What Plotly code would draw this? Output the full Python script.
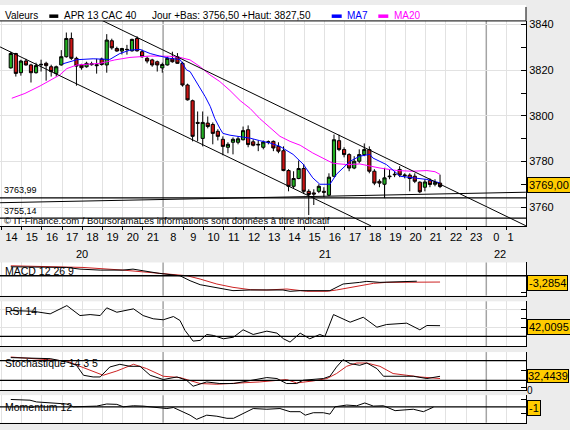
import plotly.graph_objects as go

# ---------------- data ----------------
HOUR_LABELS = ["14", "15", "16", "17", "18", "19", "20", "21", "8", "9", "10", "11", "12", "13",
               "14", "15", "16", "17", "18", "19", "20", "21", "22", "23", "0", "1"]
DAY_LABELS = ["20", "21", "22"]
DAY_LABEL_SLOT = [4.0, 16.0, 24.7]
DAY_BREAK_SLOTS = [8, 24]

OPEN = [3821.0, 3827.3, 3818.9, 3824.0, 3822.3, 3818.9, 3822.6, 3823.0, 3821.5, 3818.6,
        3822.3, 3825.9, 3833.9, 3825.2, 3822.3, 3821.5, 3822.4, 3822.4, 3824.9, 3822.3,
        3832.9, 3829.5, 3828.4, 3829.0, 3828.5, 3833.9, 3828.1, 3825.2, 3824.5, 3823.7,
        3821.0, 3822.3, 3825.0, 3825.9, 3823.0, 3813.5, 3806.6, 3797.1, 3790.1, 3796.8,
        3796.2, 3793.2, 3789.7, 3786.2, 3788.4, 3788.4, 3789.5, 3793.9, 3788.6, 3787.5,
        3786.2, 3788.4, 3788.8, 3786.6, 3784.7, 3776.0, 3769.1, 3772.5, 3776.9, 3766.9,
        3766.2, 3766.9, 3766.9, 3765.2, 3773.5, 3789.1, 3785.2, 3783.0, 3777.1, 3780.1,
        3783.0, 3785.2, 3775.7, 3771.3, 3770.0, 3773.3, 3774.4, 3776.5, 3773.7, 3774.0,
        3773.5, 3770.9, 3768.7, 3771.6, 3770.0, 3770.5]
HIGH = [3828.1, 3827.6, 3824.6, 3825.0, 3822.8, 3823.3, 3824.6, 3823.7, 3822.4, 3822.0,
        3828.8, 3836.5, 3836.5, 3825.9, 3822.8, 3823.7, 3823.7, 3825.0, 3825.5, 3835.8,
        3833.8, 3830.3, 3829.8, 3831.1, 3833.8, 3834.9, 3829.0, 3825.9, 3825.0, 3824.2,
        3823.3, 3825.9, 3828.1, 3827.5, 3823.7, 3814.1, 3807.1, 3801.9, 3801.9, 3799.7,
        3797.1, 3794.1, 3791.0, 3788.4, 3790.5, 3791.0, 3795.3, 3795.8, 3789.7, 3789.2,
        3789.2, 3789.2, 3789.2, 3788.4, 3786.6, 3776.6, 3775.7, 3780.4, 3778.9, 3767.8,
        3767.8, 3770.0, 3768.7, 3774.8, 3791.8, 3791.7, 3786.2, 3783.6, 3782.3, 3785.3,
        3787.9, 3786.6, 3776.6, 3772.2, 3777.2, 3776.6, 3775.7, 3777.9, 3774.8, 3774.8,
        3774.8, 3771.3, 3772.2, 3772.6, 3772.2, 3774.2]
LOW = [3820.7, 3817.2, 3817.6, 3822.0, 3814.6, 3818.5, 3819.4, 3815.4, 3817.2, 3817.2,
       3822.0, 3825.5, 3824.5, 3813.2, 3820.2, 3821.1, 3822.0, 3818.5, 3822.0, 3818.9,
       3829.0, 3828.1, 3826.9, 3826.8, 3828.1, 3828.1, 3825.5, 3823.0, 3821.5, 3819.4,
       3818.9, 3822.0, 3823.3, 3822.8, 3812.8, 3806.7, 3788.8, 3788.8, 3786.6, 3794.5,
       3787.5, 3789.2, 3782.7, 3783.6, 3783.1, 3787.5, 3789.2, 3786.2, 3786.6, 3784.5,
       3785.3, 3787.5, 3784.5, 3783.6, 3775.7, 3766.9, 3768.3, 3772.2, 3765.7, 3756.5,
       3760.9, 3766.1, 3764.4, 3764.8, 3773.1, 3784.5, 3781.8, 3775.7, 3776.6, 3779.2,
       3782.3, 3774.8, 3769.6, 3768.7, 3763.9, 3772.2, 3773.1, 3773.1, 3772.6, 3766.9,
       3770.5, 3766.1, 3766.9, 3768.7, 3769.1, 3768.3]
CLOSE = [3827.3, 3818.6, 3824.0, 3822.3, 3818.9, 3822.0, 3822.4, 3822.0, 3819.4, 3821.5,
         3825.9, 3833.9, 3825.2, 3821.8, 3821.1, 3823.0, 3822.8, 3822.0, 3822.5, 3833.2,
         3829.8, 3828.4, 3829.5, 3829.1, 3833.5, 3828.5, 3825.9, 3824.0, 3822.3, 3822.3,
         3822.5, 3825.2, 3823.7, 3823.0, 3813.5, 3807.0, 3791.0, 3796.7, 3797.1, 3795.3,
         3792.3, 3791.0, 3786.6, 3787.5, 3789.7, 3789.9, 3793.5, 3787.4, 3787.1, 3787.3,
         3788.5, 3788.6, 3785.9, 3784.5, 3776.0, 3769.1, 3772.5, 3776.9, 3766.9, 3765.5,
         3765.7, 3769.1, 3766.5, 3773.1, 3789.5, 3785.2, 3783.0, 3777.1, 3780.1, 3783.0,
         3785.2, 3775.7, 3770.5, 3770.5, 3772.8, 3773.5, 3774.2, 3774.0, 3774.0, 3772.5,
         3771.3, 3766.7, 3771.0, 3769.9, 3770.7, 3769.0]

MA7_K = [10.3, 13.1, 16.3, 19.6, 21.6, 23.6, 25.6, 27.6, 29.5, 31.5, 33.5, 34.8, 35.5, 36.5,
         37.5, 38.5, 39.5, 40.4, 41.4, 42.0, 43.4, 45.4, 47.4, 49.3, 51.3, 53.3, 54.6, 55.9,
         57.9, 59.8, 61.2, 63.2, 64.5, 65.8, 67.2, 69.1, 71.1, 71.7, 74.4, 77.1, 79.6, 82.4, 85.0]
MA7_V = [3822.8, 3824.6, 3825.0, 3824.7, 3827.3, 3828.8, 3829.1, 3827.3, 3826.2, 3825.2,
         3824.7, 3820.1, 3819.4, 3815.9, 3811.9, 3808.4, 3804.1, 3798.8, 3794.5, 3792.3,
         3791.5, 3790.9, 3790.2, 3789.1, 3788.1, 3786.6, 3784.9, 3783.1, 3778.8, 3772.8,
         3770.0, 3770.0, 3774.4, 3777.1, 3780.1, 3782.3, 3783.1, 3781.5, 3778.6, 3773.5,
         3772.8, 3772.1, 3770.6]
MA20_K = [0.2, 2.8, 5.8, 9.7, 11.1, 13.1, 17.7, 20.6, 23.6, 27.6, 31.5, 33.5, 35.5, 37.5,
          39.4, 41.4, 43.4, 45.4, 47.4, 49.3, 51.3, 53.3, 55.3, 57.3, 59.8, 61.8, 63.8, 66.6,
          69.1, 73.1, 76.5, 79.6, 82.4, 84.0, 85.0]
MA20_V = [3807.7, 3809.8, 3813.1, 3817.9, 3820.7, 3822.3, 3823.0, 3824.5, 3825.6, 3826.2,
          3826.1, 3825.6, 3824.5, 3821.5, 3818.0, 3815.0, 3811.1, 3806.7, 3803.2, 3798.8,
          3794.9, 3791.0, 3788.8, 3787.1, 3783.7, 3781.5, 3779.2, 3778.6, 3778.9, 3777.1,
          3776.0, 3775.7, 3776.0, 3775.5, 3774.3]

UPPER_CHANNEL_X = [5.0, 25.96]
UPPER_CHANNEL_Y = [3841.7, 3751.8]
LOWER_CHANNEL_X = [-0.07, 18.3]
LOWER_CHANNEL_Y = [3830.2, 3751.7]
RISING_LINE_X = [-0.07, 25.96]
RISING_LINE_Y = [3761.9, 3766.5]
LEVEL_A = 3763.99
LEVEL_B = 3755.14

MACD_K = [0, 6.4, 11.1, 13.7, 17.7, 22.2, 24.2, 26.2, 29.5, 33.5, 35.5, 37.5, 40.8, 44.0,
          47.4, 50.7, 53.9, 55.3, 57.3, 63.2, 64.5, 65.8, 69.1, 70.5, 73.1, 77.7, 80.4]
MACD_V = [5.4, 5.4, 5.0, 4.0, 3.4, 3.4, 4.0, 3.0, 1.4, 0.0, -3.0, -5.4, -7.4, -9.0,
          -8.6, -8.6, -8.6, -9.4, -9.0, -9.0, -7.0, -5.0, -4.0, -3.4, -4.0, -3.4, -3.3]
SIG_K = [0, 14.3, 22.2, 30.1, 34.9, 37.5, 40.8, 44.0, 47.4, 50.7, 54.7, 58.6, 62.6, 64.5,
         66.5, 69.1, 71.8, 74.4, 78.4, 85.0]
SIG_V = [6.0, 5.0, 3.4, 1.4, 0.0, -2.0, -5.0, -7.0, -8.4, -8.6, -8.0, -9.4, -9.4, -8.6,
         -7.4, -6.0, -4.6, -4.0, -3.8, -3.8]

RSI_K = [0, 4.4, 7.8, 11.1, 13.7, 15.7, 17.7, 19.0, 21.0, 22.9, 24.3, 26.2, 28.2, 30.2,
         32.2, 33.5, 34.5, 36.1, 37.5, 38.8, 40.1, 42.1, 44.1, 46.0, 48.0, 50.7, 52.7, 54.0,
         55.3, 57.3, 59.2, 61.2, 62.2, 63.9, 67.2, 69.8, 72.5, 74.4, 78.4, 81.0, 82.4, 85.0]
RSI_V = [58.9, 58.1, 55.2, 64.4, 53.3, 54.4, 53.3, 61.9, 57.0, 58.9, 60.8, 53.3, 49.7, 48.6,
         52.2, 47.8, 36.7, 24.8, 25.6, 32.2, 31.1, 27.4, 29.2, 37.4, 32.2, 35.9, 33.7, 27.4,
         23.7, 33.7, 27.4, 32.2, 30.0, 54.4, 45.9, 51.4, 40.3, 43.3, 44.8, 37.4, 42.2, 42.0]

STK_K = [0, 7.8, 11.1, 13.0, 14.4, 16.3, 17.7, 19.6, 21.6, 23.6, 25.6, 27.6, 30.2, 32.9,
         34.8, 36.1, 38.8, 41.4, 44.1, 46.7, 50.7, 52.7, 54.6, 56.6, 57.9, 61.9, 63.2, 64.5,
         65.8, 67.2, 69.1, 70.5, 72.5, 73.8, 75.7, 79.7, 82.4, 85.0]
STK_V = [88.9, 85.8, 75.6, 65.7, 35.5, 30.4, 30.4, 60.5, 68.7, 62.6, 62.6, 35.5, 22.6, 30.4,
         20.5, 2.4, 15.4, 10.5, 10.5, 18.4, 28.6, 25.6, 10.5, 10.5, 20.5, 25.6, 32.5, 60.5,
         82.8, 70.8, 65.7, 72.6, 55.7, 32.5, 32.5, 32.5, 25.6, 32.4]
STD_K = [0, 11.1, 13.7, 18.3, 21.0, 24.3, 26.9, 30.2, 33.5, 37.5, 40.8, 44.1, 49.3, 54.6,
         56.6, 59.9, 62.6, 64.5, 66.5, 68.5, 70.5, 73.1, 75.7, 78.4, 81.0, 85.0]
STD_V = [90.7, 78.6, 62.6, 35.5, 48.5, 68.7, 55.7, 32.5, 28.6, 10.5, 8.4, 10.5, 15.4, 22.6,
         12.3, 18.4, 25.6, 40.7, 62.6, 72.6, 72.6, 62.6, 40.7, 35.5, 30.4, 25.6]

MOM_K = [0, 3.8, 5.1, 11.1, 12.4, 14.4, 17.0, 19.0, 21.0, 22.3, 24.3, 26.2, 30.9, 32.2,
         33.5, 35.5, 36.8, 38.8, 40.8, 42.8, 44.1, 46.0, 48.0, 50.7, 53.3, 55.3, 57.3, 58.3,
         59.9, 61.9, 63.2, 64.2, 66.5, 68.5, 70.1, 71.8, 73.8, 76.1, 78.1, 79.7, 81.7, 83.7]
MOM_V = [21, 19, 14, 8, 0, 0, 2, 8, 7, 0, 3, 2, -5, -2, -11, -24, -36, -24, -27, -33, -33,
         -19, -5, -7, -5, -14, -14, -24, -17, -17, -21, 0, 5, 3, 11, 2, 3, -11, -9, -7, -14, -1]

LAST_PRICE = "3769,00"
MACD_LABEL = "-3,2854"
RSI_LABEL = "42,0095"
STOCH_LABEL = "32,4439"
MOM_LABEL = "-1"
MACD_LAST, RSI_LAST, STOCH_LAST, MOM_LAST = -3.2854, 42.0095, 32.4439, -1

# ---------------- styling / geometry ----------------
W, H = 570, 430
FONT = "Liberation Sans, Arial, sans-serif"
GREEN = "#22b022"
RED = "#cc1414"
GRID = "#e2e2e2"
DARKGRID = "#a4a4a4"
GOLD = "#ffcc00"
PLOT_R = 526
SLOT_PX = 20.2
X0 = -1.5 / SLOT_PX
X1 = X0 + PLOT_R / SLOT_PX
CANDLE_OFFSET = 0.46


def kx(k):
    return CANDLE_OFFSET + 0.25 * k


def pyf(p):
    return 1 - p / H


def pxf(p):
    return p / W


XDOM = [0, PLOT_R / W]
DOMS = {
    "y": [pyf(225.5), pyf(19)],
    "y2": [pyf(295), pyf(261.7)],
    "y3": [pyf(346), pyf(300.7)],
    "y4": [pyf(390), pyf(351.7)],
    "y5": [pyf(422.7), pyf(395)],
}

fig = go.Figure()

fig.add_trace(go.Candlestick(
    x=[kx(i) for i in range(len(OPEN))], open=OPEN, high=HIGH, low=LOW, close=CLOSE,
    increasing=dict(line=dict(color="black", width=1), fillcolor=GREEN),
    decreasing=dict(line=dict(color="black", width=1), fillcolor=RED),
    whiskerwidth=0, showlegend=False, hoverinfo="skip", xaxis="x", yaxis="y"))


def line(xs, ys, color, ax="x", ay="y", width=1):
    fig.add_trace(go.Scatter(x=xs, y=ys, mode="lines", line=dict(color=color, width=width),
                             showlegend=False, hoverinfo="skip", xaxis=ax, yaxis=ay))


line([kx(k) for k in MA20_K], MA20_V, "#ff00ff")
line([kx(k) for k in MA7_K], MA7_V, "#0000ff")
line(UPPER_CHANNEL_X, UPPER_CHANNEL_Y, "black")
line(LOWER_CHANNEL_X, LOWER_CHANNEL_Y, "black")
line(RISING_LINE_X, RISING_LINE_Y, "black")

line([kx(k) for k in SIG_K], SIG_V, "#cc2222", "x2", "y2")
line([kx(k) for k in MACD_K], MACD_V, "black", "x2", "y2")
line([kx(k) for k in RSI_K], RSI_V, "black", "x3", "y3")
line([kx(k) for k in STD_K], STD_V, "#cc2222", "x4", "y4")
line([kx(k) for k in STK_K], STK_V, "black", "x4", "y4")
line([kx(k) for k in MOM_K], MOM_V, "black", "x5", "y5")

tickpos = [i + 0.5 for i in range(len(HOUR_LABELS))]
tickpos[-1] = len(HOUR_LABELS) - 0.8

axfont = dict(family=FONT, size=11, color="black")
grid_slots = [s for s in range(0, 27) if s not in DAY_BREAK_SLOTS]
minor_x = dict(tickmode="array", tickvals=grid_slots, showgrid=True,
               gridcolor=GRID, gridwidth=1, ticks="outside", ticklen=3, tickcolor="black")
minor_x_sub = dict(tickmode="array", tickvals=grid_slots, showgrid=True,
                   gridcolor=GRID, gridwidth=1, ticks="")

layout = dict(
    width=W, height=H, autosize=False,
    margin=dict(l=0, r=0, t=0, b=0, pad=0),
    paper_bgcolor="#ececec", plot_bgcolor="white",
    showlegend=False, boxgap=0.1,
    font=dict(family=FONT, size=11, color="black"),
)

layout["xaxis"] = dict(domain=XDOM, range=[X0, X1], anchor="y", tickmode="array",
                       tickvals=tickpos, ticktext=HOUR_LABELS, ticks="", showgrid=False,
                       minor=minor_x, showline=True, linecolor="black", linewidth=1,
                       zeroline=False, tickfont=axfont, rangeslider=dict(visible=False),
                       fixedrange=True)
layout["yaxis"] = dict(domain=DOMS["y"], range=[3751.5, 3841.6], anchor="x", side="right",
                       tickvals=[3760, 3780, 3800, 3820, 3840], ticks="inside", ticklen=5,
                       tickcolor="black", showgrid=True, gridcolor=GRID, showline=True,
                       linecolor="black", zeroline=False, tickfont=axfont,
                       minor=dict(tickmode="array", tickvals=[3770, 3790, 3810, 3830],
                                  ticks="inside", ticklen=5, tickcolor="black", showgrid=False))

sub_y = {
    "2": dict(range=[-12.0, 8.0], tickvals=[-10]),
    "3": dict(range=[18.9, 69.2], tickvals=[40, 50, 60]),
    "4": dict(range=[-9.6, 105.7], tickvals=[0, 50]),
    "5": dict(range=[-45.7, 33.4], tickvals=[20, -20]),
}
for n, spec in sub_y.items():
    layout["xaxis" + n] = dict(domain=XDOM, range=[X0, X1], anchor="y" + n,
                               showticklabels=False, ticks="", showgrid=False,
                               minor=minor_x_sub, showline=True, linecolor="black",
                               zeroline=False, fixedrange=True)
    layout["yaxis" + n] = dict(domain=DOMS["y" + n], range=spec["range"], anchor="x" + n,
                               side="right", tickmode="array", tickvals=spec["tickvals"],
                               showticklabels=False, ticks="inside", ticklen=5,
                               tickcolor="black", showgrid=False, showline=True,
                               linecolor="black", zeroline=False)

shapes = []
# title band
shapes.append(dict(type="rect", xref="paper", yref="paper", x0=0, x1=pxf(PLOT_R),
                   y0=pyf(19), y1=pyf(3), fillcolor="white", line=dict(width=0), layer="below"))
shapes.append(dict(type="line", xref="paper", yref="paper", x0=0, x1=pxf(PLOT_R),
                   y0=pyf(19), y1=pyf(19), line=dict(color="black", width=1)))
shapes.append(dict(type="line", xref="paper", yref="paper", x0=pxf(PLOT_R), x1=pxf(PLOT_R),
                   y0=pyf(19), y1=pyf(5), line=dict(color="black", width=1)))
# legend swatches
for (x0, x1, col) in [(49.3, 58.3, "black"), (331.7, 341.7, "#0000ff"), (378.3, 388.3, "#ff00ff")]:
    shapes.append(dict(type="rect", xref="paper", yref="paper", x0=pxf(x0), x1=pxf(x1),
                       y0=pyf(16), y1=pyf(12.5), fillcolor=col, line=dict(width=0)))
# day separators
for n in ["", "2", "3", "4", "5"]:
    for s in DAY_BREAK_SLOTS:
        shapes.append(dict(type="line", xref="x" + n, yref=("y" + n) + " domain", x0=s, x1=s,
                           y0=0, y1=1, line=dict(color=DARKGRID, width=1.5), layer="below"))
# horizontal levels
for lvl in [LEVEL_A, LEVEL_B]:
    shapes.append(dict(type="line", xref="x domain", yref="y", x0=0, x1=1, y0=lvl, y1=lvl,
                       line=dict(color="black", width=1.3)))
shapes.append(dict(type="line", xref="x2 domain", yref="y2", x0=0, x1=1, y0=0, y1=0,
                   line=dict(color="black", width=1.3)))
for g in [40, 60]:
    shapes.append(dict(type="line", xref="x3 domain", yref="y3", x0=0, x1=1, y0=g, y1=g,
                       line=dict(color=GRID, width=1), layer="below"))
shapes.append(dict(type="line", xref="x3 domain", yref="y3", x0=0, x1=1, y0=30, y1=30,
                   line=dict(color="black", width=1.3)))
for g in [20, 80]:
    shapes.append(dict(type="line", xref="x4 domain", yref="y4", x0=0, x1=1, y0=g, y1=g,
                       line=dict(color="black", width=1.3)))
shapes.append(dict(type="line", xref="x5 domain", yref="y5", x0=0, x1=1, y0=0, y1=0,
                   line=dict(color="black", width=1.3)))
layout["shapes"] = shapes

anns = []


def ann(text, x, y, size=10, color="black", **kw):
    d = dict(text=text, x=pxf(x), y=pyf(y), xref="paper", yref="paper", xanchor="left",
             yanchor="middle", showarrow=False, font=dict(family=FONT, size=size, color=color))
    d.update(kw)
    anns.append(d)


ann("Valeurs", 3, 13.5)
ann("APR 13 CAC 40", 62, 13.5)
ann("Jour +Bas: 3756,50 +Haut: 3827,50", 150, 13.5)
ann("MA7", 344.5, 13.5, color="#0000ff")
ann("MA20", 391.5, 13.5, color="#ff00ff")
ann("3763,99", 2, 189, size=9)
ann("3755,14", 2, 209.5, size=9)
ann("© IT-Finance.com / BoursoramaLes informations sont données à titre indicatif", 2, 219.5,
    size=9.5)
ann("MACD 12 26 9", 3, 270.3, size=10.5)
ann("RSI 14", 3, 310.3, size=10.5)
ann("Stochastique 14 3 5", 3, 363, size=10.5)
ann("Momentum 12", 3, 407, size=10.5)
ann("0", PLOT_R - 0.5, 390.5, size=10, borderpad=0)

for txt, slot in zip(DAY_LABELS, DAY_LABEL_SLOT):
    anns.append(dict(text=txt, x=slot, y=pyf(253), xref="x", yref="paper", xanchor="center",
                     yanchor="middle", showarrow=False, font=axfont))

box = dict(bgcolor=GOLD, bordercolor="black", borderwidth=1, borderpad=1, showarrow=False,
           xanchor="left", yanchor="middle", font=dict(family=FONT, size=11, color="black"))
for txt, yref, val, shift in [(LAST_PRICE, "y", 3769.0, 1.5), (MACD_LABEL, "y2", MACD_LAST, -1.5),
                              (RSI_LABEL, "y3", RSI_LAST, -1), (STOCH_LABEL, "y4", STOCH_LAST, 0),
                              (MOM_LABEL, "y5", MOM_LAST, -0.5)]:
    d = dict(box)
    d.update(text=txt, x=pxf(PLOT_R + 0.5), xref="paper", y=val, yref=yref, yshift=shift)
    if yref == "y4":
        d["borderpad"] = 0
    anns.append(d)

layout["annotations"] = anns
fig.update_layout(**layout)
fig.write_html("out.html")
